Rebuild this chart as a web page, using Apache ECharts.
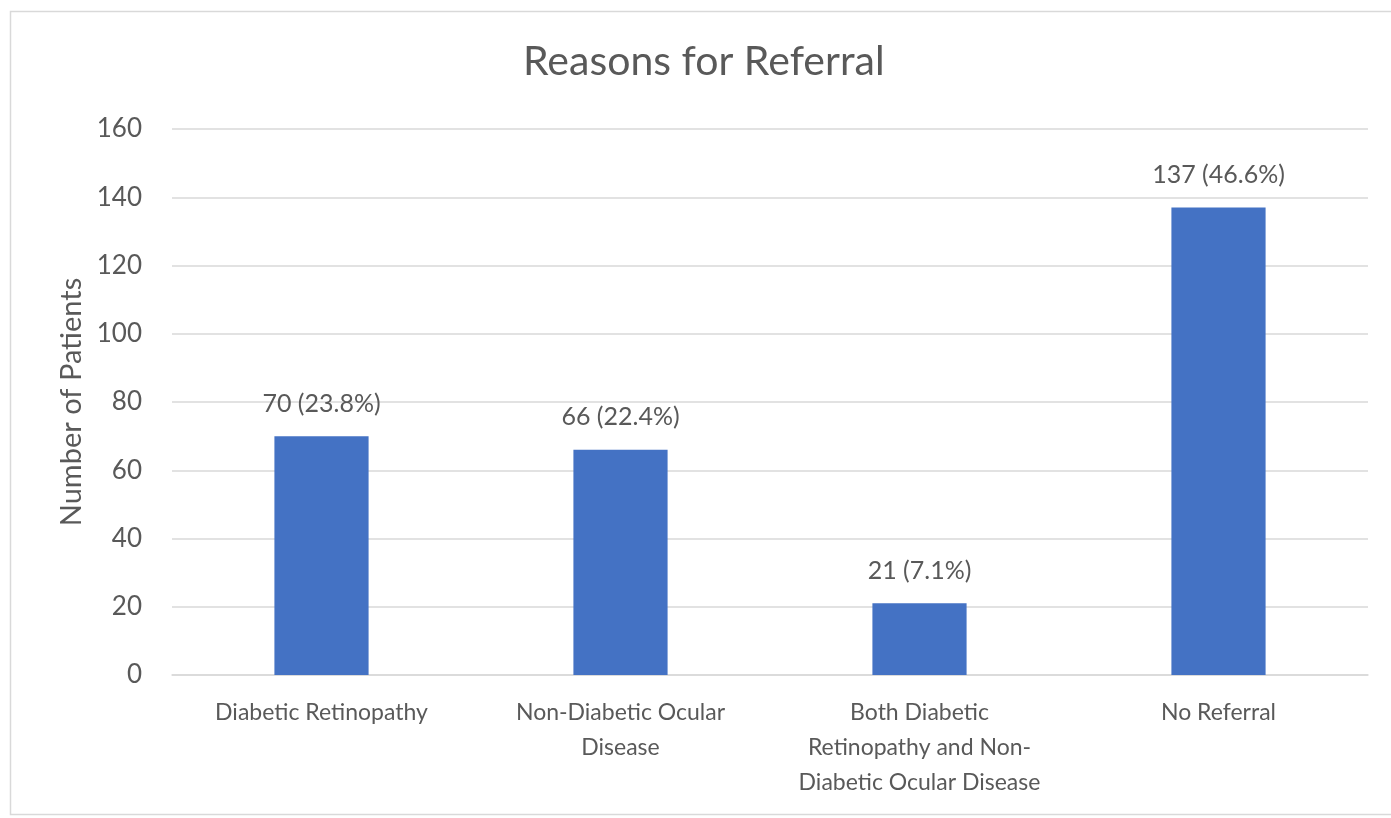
<!DOCTYPE html>
<html>
<head>
<meta charset="utf-8">
<title>Reasons for Referral</title>
<script src="https://cdn.jsdelivr.net/npm/echarts@6/dist/echarts.min.js"></script>
<style>
  html, body { margin: 0; padding: 0; background: #ffffff; }
  #chart { width: 1391px; height: 818px; }
</style>
</head>
<body>
<div id="chart"></div>
<script>
// Referral outcome categories and patient counts
const categories = [
  'Diabetic Retinopathy',
  'Non-Diabetic Ocular\nDisease',
  'Both Diabetic\nRetinopathy and Non-\nDiabetic Ocular Disease',
  'No Referral'
];
const patients = [70, 66, 21, 137];
const percents = ['23.8%', '22.4%', '7.1%', '46.6%'];
const yTicks = { min: 0, max: 160, interval: 20 };

const FONT = 'Lato, "Open Sans", sans-serif';
const TEXT = '#595959';
const GRID = '#d9d9d9';

const chart = echarts.init(document.getElementById('chart'), null, { renderer: 'canvas' });

chart.setOption({
  backgroundColor: '#ffffff',
  animation: false,
  graphic: [{
    type: 'rect',
    shape: { x: 10.5, y: 11.5, width: 1400, height: 803 },
    style: { fill: 'none', stroke: GRID, lineWidth: 1.5 },
    silent: true
  }],
  title: {
    text: 'Reasons for Referral',
    left: 518,
    top: 36,
    textStyle: { fontFamily: FONT, fontSize: 41, fontWeight: 'normal', color: TEXT }
  },
  grid: { left: 172, right: 23, top: 129, bottom: 143, containLabel: false },
  xAxis: {
    type: 'category',
    data: categories,
    axisLine: { show: true, lineStyle: { color: GRID, width: 1.5 } },
    axisTick: { show: false },
    axisLabel: {
      interval: 0,
      margin: 20,
      fontFamily: FONT,
      fontSize: 23,
      lineHeight: 35,
      color: TEXT
    }
  },
  yAxis: {
    type: 'value',
    min: yTicks.min,
    max: yTicks.max,
    interval: yTicks.interval,
    name: 'Number of Patients',
    nameLocation: 'middle',
    nameGap: 86,
    nameRotate: 90,
    nameTextStyle: { fontFamily: FONT, fontSize: 29, color: TEXT },
    axisLine: { show: false },
    axisTick: { show: false },
    splitLine: { lineStyle: { color: GRID, width: 1.5 } },
    axisLabel: { margin: 30, fontFamily: FONT, fontSize: 26, color: TEXT }
  },
  series: [{
    type: 'bar',
    data: patients,
    barWidth: '31.5%',
    itemStyle: { color: '#4472c4' },
    label: {
      show: true,
      position: 'top',
      distance: 20,
      fontFamily: FONT,
      fontSize: 25,
      color: TEXT,
      formatter: p => p.value + ' (' + percents[p.dataIndex] + ')'
    }
  }]
});
</script>
</body>
</html>
